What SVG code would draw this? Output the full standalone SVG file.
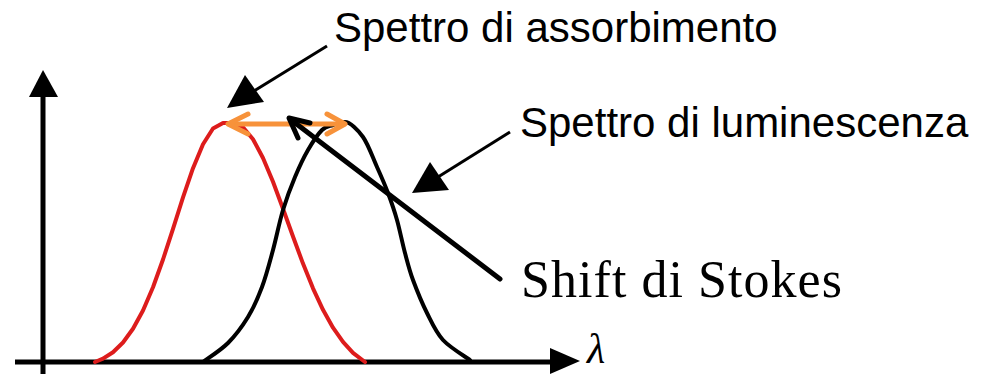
<svg xmlns="http://www.w3.org/2000/svg" width="994" height="374" viewBox="0 0 994 374">
<style>
.lbl{font-family:"Liberation Sans",Arial,sans-serif;font-size:42px;fill:#000}
.ser{font-family:"Liberation Serif","Times New Roman",serif;fill:#000}
.curve{fill:none;stroke-width:4;stroke-linejoin:round;stroke-linecap:round}
.axis{stroke:#000;stroke-width:5;fill:none}
</style>
<rect width="994" height="374" fill="#fff"/>
<g id="axes">
<line class="axis" x1="43" y1="95" x2="43" y2="374"/>
<polygon points="43,70 29,97 58,97" fill="#000"/>
<line class="axis" x1="15" y1="362" x2="552" y2="362"/>
<polygon points="580,361 550,348 550,374" fill="#000"/>
<text class="ser" x="587" y="363" font-size="42" font-style="italic">λ</text>
</g>
<g id="absorption-curve">
<polyline class="curve" stroke="#dd1c1c" points="95,362 103,358.6 113,352.2 123,342.5 133,328.8 143,310.5 153,287.2 163,259.5 173,228.9 183,197.4 193,168.2 203,144.2 213,128.5 223,123 233,123 243,127.2 253,139.2 263,158 273,181.8 283,208.7 293,236.5 303,263.6 313,288.3 323,309.8 333,327.7 343,341.9 353,352.8 365,362"/>
</g>
<g id="luminescence-curve">
<path class="curve" stroke="#000" d="M203,362 C207.2,358.8 220.5,350.5 228,343 C235.5,335.5 242.3,326.3 248,317 C253.7,307.7 257.8,298.2 262,287 C266.2,275.8 269.5,262.8 273,250 C276.5,237.2 279.3,222.2 283,210 C286.7,197.8 290.8,187 295,177 C299.2,167 303.5,157.8 308,150 C312.5,142.2 317.8,134.2 322,130 C326.2,125.8 329.2,126.3 333,125 C336.8,123.7 340,122 345,122 C350,122 357.7,129.5 363,137 C368.3,144.5 372.8,157.7 377,167 C381.2,176.3 384.7,184.2 388,193 C391.3,201.8 394.2,210 397,220 C399.8,230 402.3,243 405,253 C407.7,263 409.3,270 413,280 C416.7,290 422,303 427,313 C432,323 435.8,332.2 443,340 C450.2,347.8 465.5,356.7 470,360"/>
</g>
<g id="connectors">
<g id="stokes-shift-arrow" stroke="#f7923a" stroke-width="5" fill="none" stroke-linecap="round" stroke-linejoin="round">
<line x1="229" y1="124" x2="344" y2="124"/>
<polyline points="248,114 228,124 248,134"/>
<polyline points="327,114 345,124 327,134"/>
</g>
<g id="shift-pointer" stroke="#000" stroke-width="5" fill="none" stroke-linecap="round" stroke-linejoin="round">
<line x1="500" y1="279" x2="290" y2="119"/>
<polyline points="310,123 289,118 298,138"/>
</g>
<g id="absorption-pointer">
<line x1="327" y1="46" x2="254" y2="91" stroke="#000" stroke-width="3"/>
<polygon points="227,108 245,75 264,102" fill="#000"/>
</g>
<g id="luminescence-pointer">
<line x1="510" y1="132" x2="438" y2="177" stroke="#000" stroke-width="3"/>
<polygon points="412,193 430,162 449,190" fill="#000"/>
</g>
</g>
<g id="label-absorption"><text class="lbl" x="334" y="42">Spettro di assorbimento</text></g>
<g id="label-luminescence"><text class="lbl" x="520" y="137">Spettro di luminescenza</text></g>
<g id="label-shift"><text class="ser" x="521" y="297" font-size="52" textLength="321" lengthAdjust="spacing">Shift di Stokes</text></g>
</svg>
